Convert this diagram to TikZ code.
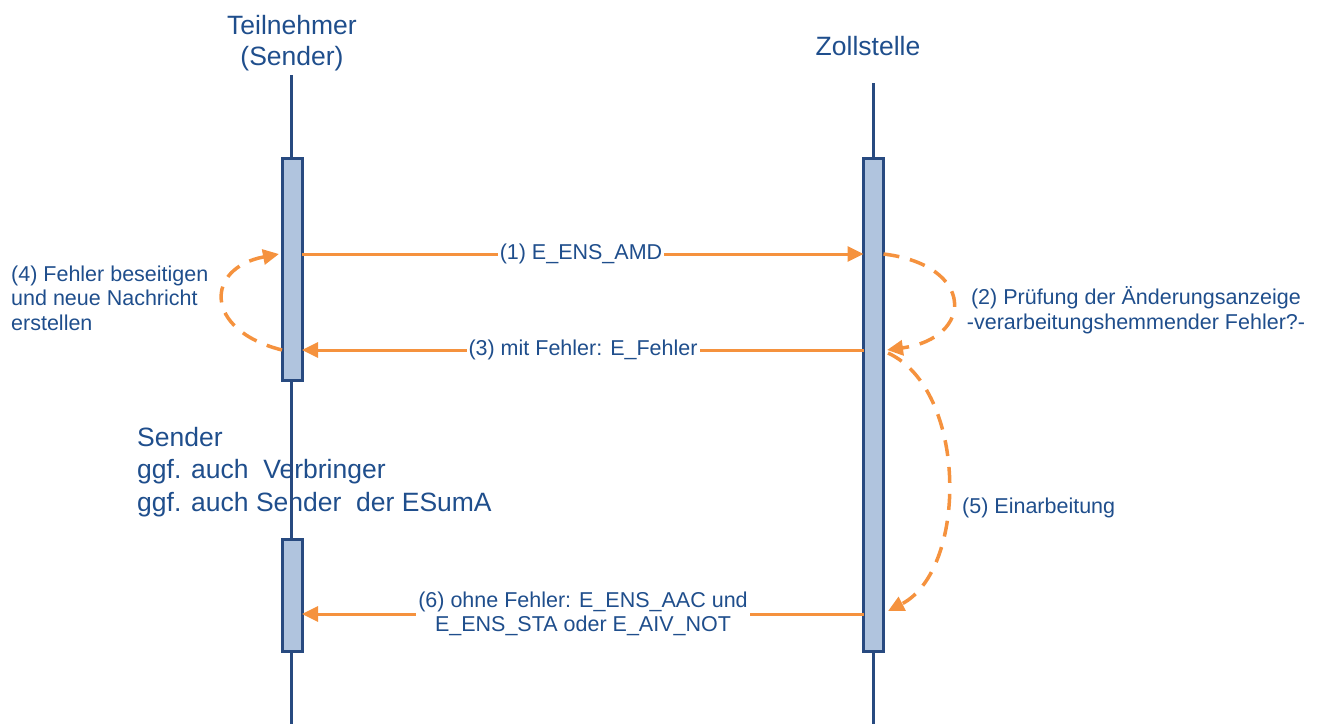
\documentclass[tikz,border=0pt]{standalone}
\usepackage{fontspec}
\setmainfont{Liberation Sans}
\usetikzlibrary{arrows.meta}
\definecolor{txtblue}{HTML}{1F4E8C}
\definecolor{lineblue}{HTML}{284A80}
\definecolor{boxfill}{HTML}{B0C4DE}
\definecolor{arrorange}{HTML}{F5923E}
\tikzset{
  lifeline/.style={draw=lineblue, line width=3pt},
  actbox/.style={draw=lineblue, fill=boxfill, line width=3pt, inner sep=0pt, outer sep=0pt, minimum width=20pt},
  msg/.style={draw=arrorange, line width=3pt, -{Triangle[length=16pt,width=15pt]}},
  selfmsg/.style={draw=arrorange, line width=3.5pt, dash pattern=on 16pt off 11pt, -{Triangle[length=16pt,width=15pt]}},
  bigtxt/.style={text=txtblue, font=\fontsize{26.5}{31}\selectfont, inner sep=0pt},
  smalltxt/.style={text=txtblue, font=\fontsize{21.5}{24.5}\selectfont, inner sep=1pt},
  msglabel/.style={smalltxt, fill=white, inner sep=2pt}
}
\begin{document}
\begin{tikzpicture}[x=1pt,y=-1pt]
\useasboundingbox (0,0) rectangle (1318,724);
% texts behind lifelines
\node[bigtxt, align=center] (tn) at (292,43) {Teilnehmer\\(Sender)};
\node[bigtxt] (zs) at (868,46) {Zollstelle};
\node[bigtxt, anchor=west, align=left, font=\fontsize{26.5}{32.5}\selectfont] (snd) at (137,472) {Sender\\ggf. auch\ \ Verbringer\\ggf. auch Sender\ \ der ESumA};
% lifelines
\coordinate (lt) at (291,75);
\coordinate (lbot) at (291,724);
\coordinate (rt) at (873.5,83);
\coordinate (rbot) at (873.5,724);
\draw[lifeline] (lt) -- (lbot);
\draw[lifeline] (rt) -- (rbot);
% activation boxes
\node[actbox, minimum height=222pt] (lb1) at (292,269) {};
\node[actbox, minimum height=112pt] (lb2) at (292,595) {};
\node[actbox, minimum height=493pt] (rb) at (873.5,404.5) {};
% message arrows
\coordinate (m1s) at (lb1.east |- 0,254);
\coordinate (m1e) at (rb.west |- 0,254);
\coordinate (m3s) at (rb.west |- 0,350);
\coordinate (m3e) at (lb1.east |- 0,350);
\coordinate (m6s) at (rb.west |- 0,614);
\coordinate (m6e) at (lb2.east |- 0,614);
\draw[msg] (m1s) -- (m1e);
\draw[msg] (m3s) -- (m3e);
\draw[msg] (m6s) -- (m6e);
\node[msglabel] (l1) at (581,254) {(1) E\_ENS\_AMD};
\node[msglabel] (l3) at (583,350) {(3) mit Fehler: E\_Fehler};
\node[msglabel, align=center, font=\fontsize{21.5}{24}\selectfont] (l6) at (583,614) {(6) ohne Fehler: E\_ENS\_AAC und\\E\_ENS\_STA oder E\_AIV\_NOT};
% self messages
\coordinate (s2a) at (rb.east |- 0,254);
\coordinate (s2b) at (887,350);
\coordinate (s5a) at (888,353);
\coordinate (s5b) at (888,611);
\coordinate (s4a) at (lb1.west |- 0,350);
\coordinate (s4b) at (279,254);
\draw[selfmsg] (s2a) .. controls (975,265) and (975,338) .. (s2b);
\draw[selfmsg] (s5a) .. controls (968,390) and (968,570) .. (s5b);
\draw[selfmsg] (s4a) .. controls (203,330) and (205,268) .. (s4b);
% side labels
\node[smalltxt, anchor=west, align=left] (t4) at (10,298) {(4) Fehler beseitigen\\und neue Nachricht\\erstellen};
\node[smalltxt, align=center] (t2) at (1136,310) {(2) Prüfung der Änderungsanzeige\\-verarbeitungshemmender Fehler?-};
\node[smalltxt, anchor=west] (t5) at (961,508) {(5) Einarbeitung};
\end{tikzpicture}
\end{document}
